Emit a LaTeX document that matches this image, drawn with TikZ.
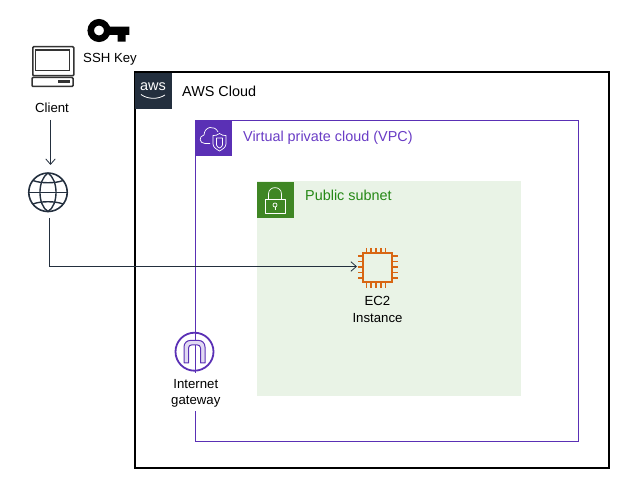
\documentclass[tikz,border=0pt]{standalone}
\usepackage{fontspec}
\setmainfont{Liberation Sans}
\usetikzlibrary{arrows.meta}
\definecolor{awsnavy}{HTML}{232F3E}
\definecolor{vpcpurple}{HTML}{5A30B5}
\definecolor{vpctext}{HTML}{693CC5}
\definecolor{subnetgreen}{HTML}{3F8624}
\definecolor{subnettext}{HTML}{248814}
\definecolor{subnetfill}{HTML}{E9F3E6}
\definecolor{chip}{HTML}{D86613}
\tikzset{
  x=1pt,y=-1pt,
  lab/.style={font=\fontsize{13.2}{16.8}\selectfont,align=center,text=black,inner sep=0pt},
  grouplab/.style={font=\fontsize{14.4}{16}\selectfont,anchor=west,inner sep=0pt},
  badge/.style={anchor=north west,minimum size=36.5pt,inner sep=0pt,outer sep=0pt},
  link/.style={draw=awsnavy,line width=0.9pt,-{Straight Barb[length=5.5pt,width=9.5pt,line width=0.8pt]}},
  iconline/.style={draw=white,line width=0.7pt,line join=round},
  pin/.style={draw=chip,line width=1.7pt},
  laptopline/.style={draw=black!80,line width=1.5pt}
}
\begin{document}
\begin{tikzpicture}
\useasboundingbox (0,0) rectangle (635,486);
% AWS cloud
\node[draw=black,line width=2pt,anchor=north west,minimum width=474pt,minimum height=396pt,inner sep=0pt,outer sep=0pt] (cloud) at (135,72) {};
\node[badge,fill=awsnavy] (awsbadge) at (135,73) {};
\node[font=\fontsize{14.5}{14.5}\selectfont,text=white,inner sep=0pt] (awsword) at (153,86.5) {aws};
\draw[white,line width=0.8pt] (141,94.5) .. controls (148,99.5) and (158,99.5) .. (165,95);
\node[grouplab,text=black] (cloudlab) at (182,91) {AWS Cloud};
% VPC
\node[draw=vpcpurple,line width=0.8pt,anchor=north west,minimum width=383pt,minimum height=321pt,inner sep=0pt,outer sep=0pt] (vpc) at (195.5,120.5) {};
\node[badge,fill=vpcpurple] (vpcbadge) at (195,120) {};
\begin{scope}[shift={(195,120)}]
  \draw[iconline] (15,23.5) -- (10,23.5) .. controls (4,23.5) and (3.5,16) .. (9,15) .. controls (9.5,6) and (20,5) .. (23,12);
  \draw[iconline] (24.5,13.5) .. controls (22.5,15.5) and (20,15.5) .. (18,15.5) -- (18,24) .. controls (18,27.5) and (22,29.5) .. (24.5,31) .. controls (27,29.5) and (31,27.5) .. (31,24) -- (31,15.5) .. controls (29,15.5) and (26.5,15.5) .. (24.5,13.5) -- cycle;
  \draw[iconline] (21.5,18) -- (21.5,25) .. controls (21.5,26.5) and (23.5,27.5) .. (24.5,28) .. controls (25.5,27.5) and (27.5,26.5) .. (27.5,25) -- (27.5,18) -- cycle;
\end{scope}
\node[grouplab,text=vpctext] (vpclab) at (243,138) {Virtual private cloud (VPC)};
% Subnet
\node[fill=subnetfill,anchor=north west,minimum width=264pt,minimum height=215pt,inner sep=0pt,outer sep=0pt] (subnet) at (257,181) {};
\node[badge,fill=subnetgreen] (subnetbadge) at (257,182) {};
\begin{scope}[shift={(257,182)}]
  \draw[iconline] (8,17) rectangle (28,31);
  \draw[iconline] (11.5,17) -- (11.5,12) .. controls (11.5,3.5) and (24.5,3.5) .. (24.5,12) -- (24.5,17);
  \draw[iconline] (18,23) circle (2);
  \draw[iconline] (18,25) -- (18,28);
\end{scope}
\node[grouplab,text=subnettext] (subnetlab) at (305,195) {Public subnet};
% EC2 chip
\node[draw=chip,line width=1.8pt,minimum size=29pt,inner sep=0pt,outer sep=0pt] (ec2) at (377.5,267.5) {};
\foreach \d in {-9.5,-4.75,0,4.75,9.5}{
  \draw[pin] (376+\d,248) -- (376+\d,253);
  \draw[pin] (376+\d,282) -- (376+\d,288);
}
\foreach \d in {-11,-5.5,0,5.5,11}{
  \draw[pin] (358,267+\d) -- (363,267+\d);
  \draw[pin] (392,267+\d) -- (397.5,267+\d);
}
\node[lab] (ec2lab) at (377.5,309.5) {EC2\\Instance};
% Key
\node[draw=black,line width=6.5pt,circle,minimum size=16.5pt,inner sep=0pt,outer sep=0pt] (key) at (99,30.5) {};
\fill[black] (107,26.7) -- (129.3,26.7) -- (129.3,35) -- (125.7,35) -- (125.7,41.7) -- (117.5,41.7) -- (117.5,35) -- (107,35) -- cycle;
\node[lab] (keylab) at (110,59) {SSH Key};
% Client
\node[laptopline,rounded corners=1pt,anchor=north west,minimum width=41pt,minimum height=29pt,inner sep=0pt] (laptop) at (32,46) {};
\draw[laptopline] (35.7,50) rectangle (69.3,70.7);
\draw[laptopline,rounded corners=1pt] (32,77.5) rectangle (73,86.5);
\fill[black!80] (58.3,80.3) rectangle (70,83);
\node[lab] (clientlab) at (52,107.5) {Client};
% Globe
\node[draw=awsnavy,line width=1.6pt,circle,minimum size=38.5pt,inner sep=0pt,outer sep=0pt] (globe) at (48,192.3) {};
\draw[awsnavy,line width=1.4pt] (48,173) .. controls (37.3,180) and (37.3,205) .. (48,211.6);
\draw[awsnavy,line width=1.4pt] (48,173) .. controls (58.7,180) and (58.7,205) .. (48,211.6);
\draw[awsnavy,line width=1.4pt] (28.5,192.3) -- (67.5,192.3);
\draw[awsnavy,line width=1.4pt] (33,180.5) .. controls (40,183.5) and (56,183.5) .. (63,180.5);
\draw[awsnavy,line width=1.4pt] (33,204) .. controls (40,201) and (56,201) .. (63,204);
% Internet gateway
\node[fill=white,minimum width=52pt,minimum height=38pt,inner sep=0pt] (igwbg) at (195.5,392) {};
\node[lab] (igwlab) at (195.8,393.3) {Internet\\gateway};
\node[draw=vpcpurple,line width=1.8pt,circle,minimum size=38pt,inner sep=0pt,outer sep=0pt] (igw) at (194.5,351.7) {};
\draw[vpcpurple,line width=1pt,line join=round,fill=vpcpurple!18] (184,363) -- (184,347) .. controls (184,343) and (187,340.5) .. (190,340.5) -- (199,340.5) .. controls (202,340.5) and (205,343) .. (205,347) -- (205,363) -- (200.5,363) -- (200.5,348) .. controls (200.5,346) and (199,345) .. (197.5,345) -- (191.5,345) .. controls (190,345) and (188.5,346) .. (188.5,348) -- (188.5,363) -- cycle;
% Connectors
\coordinate (clientout) at (50.5,120);
\coordinate (globein) at (50.5,165);
\coordinate (globeout) at (49.5,218);
\coordinate (bend) at (49.5,266.5);
\coordinate (ec2in) at (357,266.5);
\draw[link] (clientout) -- (globein);
\draw[link] (globeout) -- (bend) -- (ec2in);
\end{tikzpicture}
\end{document}
